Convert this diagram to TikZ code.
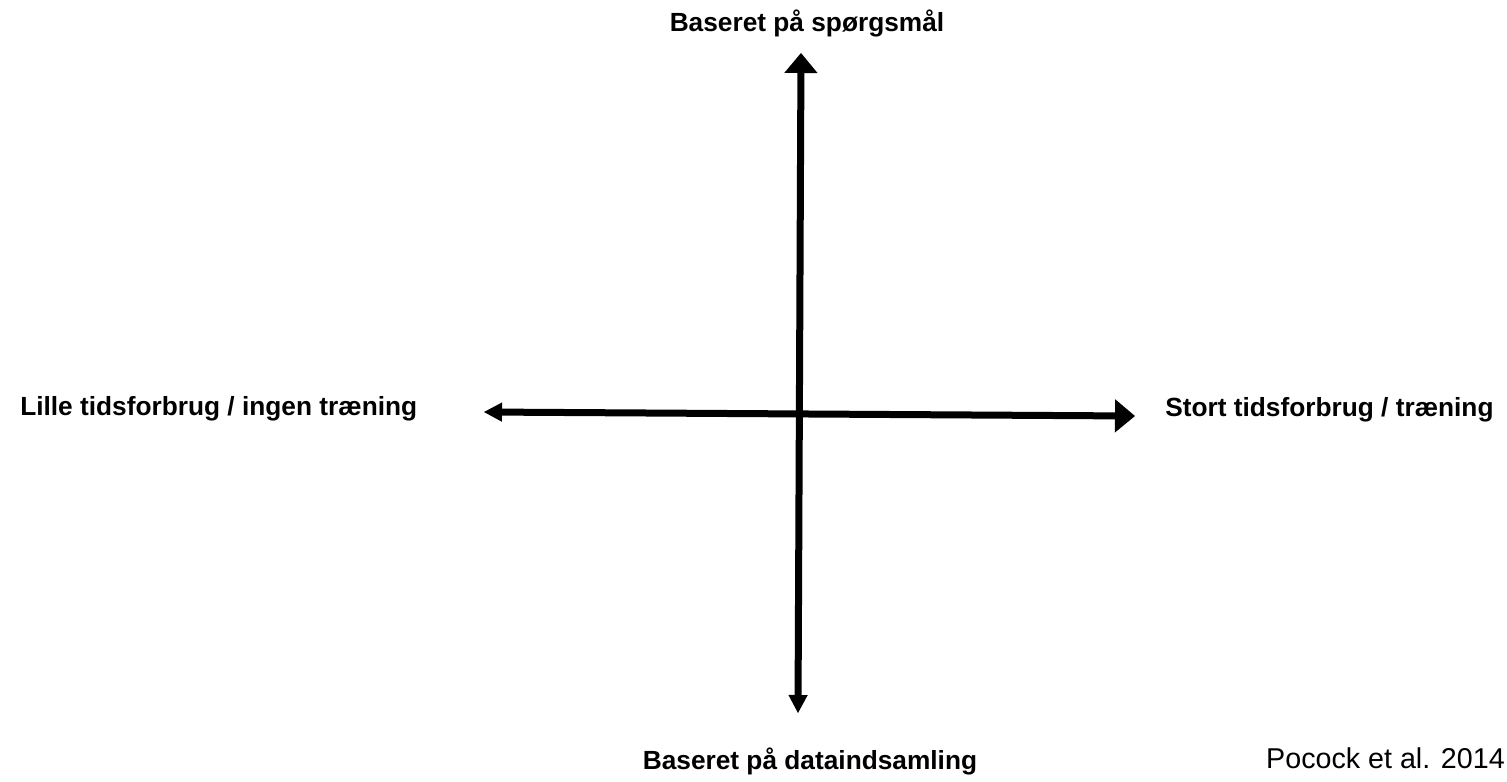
\documentclass[tikz,border=0pt]{standalone}
\usepackage{fontspec}
\setmainfont{Liberation Sans}
\usetikzlibrary{arrows.meta}

\tikzset{
  akse/.style={line width=5.25pt},
  smalspids/.tip={Triangle[length=13.5pt,width=14.5pt,line width=0pt]},
  bredspids/.tip={Triangle[length=15pt,width=25pt,line width=0pt]},
  aksetekst/.style={font=\bfseries\fontsize{19.7}{23}\selectfont, inner sep=0pt},
  kilde/.style={font=\fontsize{21.5}{25}\selectfont, inner sep=0pt},
}

\begin{document}
\begin{tikzpicture}[x=0.75pt,y=-0.75pt]
  \useasboundingbox (0,0) rectangle (1507,782);

  % akser
  \coordinate (op) at (801,53);
  \coordinate (ned) at (798,713);
  \coordinate (venstre) at (484,412);
  \coordinate (hoejre) at (1135,416);
  \draw[akse, smalspids-bredspids] (ned) -- (op);
  \draw[akse, smalspids-bredspids] (venstre) -- (hoejre);

  % tekster
  \node[aksetekst, anchor=base] (spoergsmaal) at (807,31) {Baseret på spørgsmål};
  \node[aksetekst, anchor=base] (dataindsamling) at (810,769) {Baseret på dataindsamling};
  \node[aksetekst, anchor=base west] (lille) at (20,415) {Lille tidsforbrug / ingen træning};
  \node[aksetekst, anchor=base west] (stort) at (1165,416) {Stort tidsforbrug / træning};

  \node[kilde, anchor=base east] (pocock) at (1505,768) {Pocock et al. 2014};
\end{tikzpicture}
\end{document}
